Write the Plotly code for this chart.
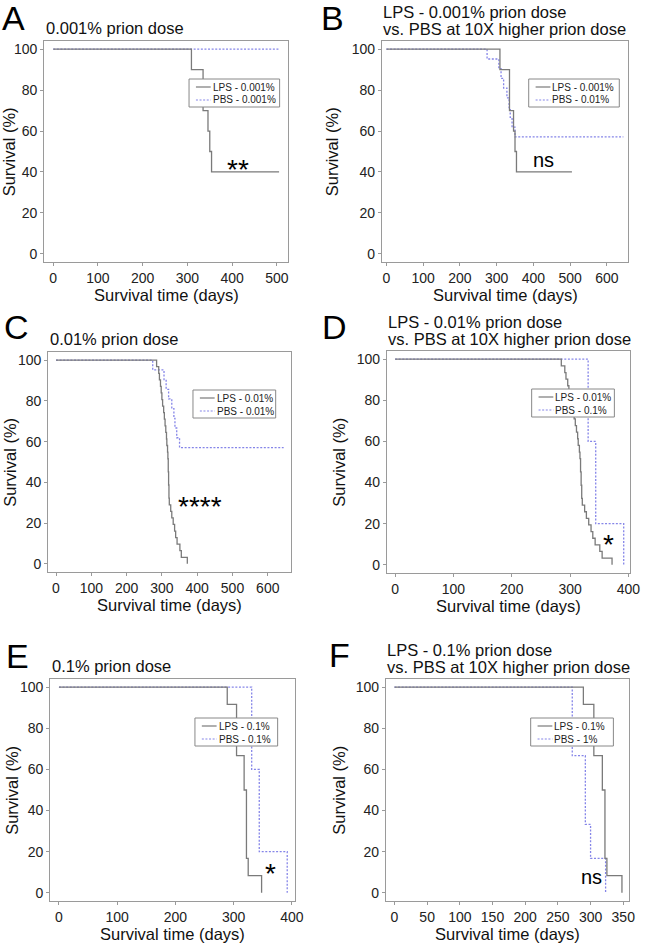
import plotly.graph_objects as go

W, H = 648, 944
FONT = "Liberation Sans, Arial, sans-serif"
GREY = "#7a7a7a"
BLUE = "#8585e8"

# Kaplan-Meier steps (days, survival %)
lps_0001_days = [0, 309, 335, 346, 350, 354, 505]
lps_0001_surv = [100, 90, 70, 60, 50, 40, 40]

pbs_0001_days = [0, 505]
pbs_0001_surv = [100, 100]

pbs_001_days = [0, 274, 306, 312, 319, 328, 334, 337, 342, 350, 645]
pbs_001_surv = [100, 95.2, 90.5, 85.7, 81.0, 76.2, 71.4, 66.7, 61.9, 57.1, 57.1]

lps_001_days = [0, 285, 291, 293, 296, 298, 300, 302, 305, 307, 309, 311, 313, 314,
                316, 317, 318, 319, 320, 321, 325, 328, 332, 336, 339, 343, 351, 355, 372]
lps_001_surv = [100, 96.8, 93.5, 90.3, 87.1, 83.9, 80.6, 77.4, 74.2, 71.0, 67.7, 64.5, 61.3, 58.1,
                54.8, 51.6, 45.2, 38.7, 32.3, 29.0, 25.8, 22.6, 19.4, 16.1, 12.9, 9.7, 6.5, 3.2, 0]

pbs_01_days = [0, 331, 344, 392]
pbs_01_surv = [100, 60, 20, 0]

lps_01_days = [0, 289, 305, 318, 322, 325, 348]
lps_01_surv = [100, 91.7, 66.7, 50, 16.7, 8.3, 0]

pbs_1_days = [0, 272, 292, 300, 323]
pbs_1_surv = [100, 66.7, 33.3, 16.7, 0]

# panel setup
panels = [
    dict(letter="A", title=["0.001% prion dose"], box=(45, 41, 293, 262), xr=[-20, 526],
         xt=list(range(0, 501, 100)),
         lps=(lps_0001_days, lps_0001_surv, "LPS - 0.001%"),
         pbs=(pbs_0001_days, pbs_0001_surv, "PBS - 0.001%"),
         legend=(192, 79), stars=("**", 242, 163, 28), letter_pos=(0, 18), ypos=9),
    dict(letter="B", title=["LPS - 0.001% prion dose", "vs. PBS at 10X higher prion dose"],
         box=(388, 41, 638, 262), xr=[-12, 658], xt=list(range(0, 601, 100)),
         lps=(lps_0001_days, lps_0001_surv, "LPS - 0.001%"),
         pbs=(pbs_001_days, pbs_001_surv, "PBS - 0.01%"),
         legend=(537, 79), stars=("ns", 552, 160, 20), letter_pos=(324, 18), ypos=337),
    dict(letter="C", title=["0.01% prion dose"], box=(49, 352, 296, 572), xr=[-22, 667],
         xt=list(range(0, 601, 100)),
         lps=(lps_001_days, lps_001_surv, "LPS - 0.01%"),
         pbs=(pbs_001_days, pbs_001_surv, "PBS - 0.01%"),
         legend=(196, 390), stars=("****", 203, 500, 28), letter_pos=(2, 327), ypos=10),
    dict(letter="D", title=["LPS - 0.01% prion dose", "vs. PBS at 10X higher prion dose"],
         box=(393, 351, 640, 573), xr=[-14, 403], xt=list(range(0, 401, 100)),
         lps=(lps_001_days, lps_001_surv, "LPS - 0.01%"),
         pbs=(pbs_01_days, pbs_01_surv, "PBS - 0.1%"),
         legend=(540, 389), stars=("*", 618, 538, 28), letter_pos=(325, 327), ypos=344),
    dict(letter="E", title=["0.1% prion dose"], box=(51, 679, 300, 901), xr=[-15, 406],
         xt=list(range(0, 401, 100)),
         lps=(lps_01_days, lps_01_surv, "LPS - 0.1%"),
         pbs=(pbs_01_days, pbs_01_surv, "PBS - 0.1%"),
         legend=(198, 718), stars=("*", 275, 867, 28), letter_pos=(4, 656), ypos=12),
    dict(letter="F", title=["LPS - 0.1% prion dose", "vs. PBS at 10X higher prion dose"],
         box=(392, 679, 639, 901), xr=[-13, 359], xt=list(range(0, 351, 50)),
         lps=(lps_01_days, lps_01_surv, "LPS - 0.1%"),
         pbs=(pbs_1_days, pbs_1_surv, "PBS - 1%"),
         legend=(539, 718), stars=("ns", 601, 877, 20), letter_pos=(332, 655), ypos=344),
]


def fx(p):
    return p / W


def fy(p):
    return 1 - p / H


def label(text, x, y, size, xanchor="center", color="#111", **kw):
    return dict(text=text, x=fx(x), y=fy(y), xref="paper", yref="paper", showarrow=False,
                xanchor=xanchor, yanchor="middle",
                font=dict(family=FONT, size=size, color=color), **kw)


fig = go.Figure()
shapes, annos = [], []
layout = {}

for i, p in enumerate(panels, start=1):
    x0, y0, x1, y1 = p["box"]
    xa = "x" if i == 1 else f"x{i}"
    ya = "y" if i == 1 else f"y{i}"
    axis = dict(showgrid=False, zeroline=False, showline=True, mirror=True,
                linecolor="#9a9a9a", linewidth=1.3, ticks="outside", ticklen=3,
                tickcolor="#9a9a9a", tickwidth=1,
                tickfont=dict(family=FONT, size=14, color="#222"))
    layout["xaxis" if i == 1 else f"xaxis{i}"] = dict(
        axis, domain=[fx(x0), fx(x1)], range=p["xr"], tickvals=p["xt"], anchor=ya)
    layout["yaxis" if i == 1 else f"yaxis{i}"] = dict(
        axis, domain=[fy(y1), fy(y0)], range=[-4, 104], tickvals=[0, 20, 40, 60, 80, 100],
        anchor=xa)

    pd_, ps_, pn = p["pbs"]
    ld, ls, ln = p["lps"]
    fig.add_trace(go.Scatter(x=pd_, y=ps_, mode="lines", line_shape="hv", name=pn,
                             line=dict(color=BLUE, width=1.3, dash="2px,1.6px"),
                             xaxis=xa, yaxis=ya, showlegend=False))
    fig.add_trace(go.Scatter(x=ld, y=ls, mode="lines", line_shape="hv", name=ln,
                             line=dict(color=GREY, width=1.3),
                             xaxis=xa, yaxis=ya, showlegend=False))

    # axis titles
    annos.append(label("Survival time (days)", (x0 + x1) / 2, y1 + 33, 16.5))
    annos.append(label("Survival (%)", p["ypos"], (y0 + y1) / 2, 16.5, textangle=-90))
    # panel letter
    lx, ly = p["letter_pos"]
    annos.append(label(p["letter"], lx, ly, 34, xanchor="left", color="#000"))
    # panel title
    if len(p["title"]) == 1:
        annos.append(label(p["title"][0], x0, y0 - 13, 16.5, xanchor="left"))
    else:
        for k, t in enumerate(p["title"]):
            annos.append(label(t, x0 - 1, y0 - 29 + k * 17, 16.5, xanchor="left"))
    # significance
    st, sx, sy, ss = p["stars"]
    off = 6 if "*" in st else 0
    annos.append(label(st, sx, sy + off, ss, color="#000"))
    # legend box
    bx, by = p["legend"]
    bw = 92 if "0.001" in pn or "0.001" in ln else 84
    shapes.append(dict(type="rect", xref="paper", yref="paper", x0=fx(bx), x1=fx(bx + bw),
                       y0=fy(by), y1=fy(by + 28), line=dict(color="#888", width=1),
                       fillcolor="white"))
    for k, (nm, col, dash) in enumerate([(ln, GREY, "solid"), (pn, BLUE, "2px,1.6px")]):
        ry = by + 8 + k * 13
        shapes.append(dict(type="line", xref="paper", yref="paper", x0=fx(bx + 7),
                           x1=fx(bx + 22), y0=fy(ry), y1=fy(ry),
                           line=dict(color=col, width=1.2, dash=dash)))
        annos.append(label(nm, bx + 22, ry, 10, xanchor="left", color="#222"))

fig.update_layout(width=W, height=H, margin=dict(l=0, r=0, t=0, b=0),
                  paper_bgcolor="white", plot_bgcolor="white", showlegend=False,
                  shapes=shapes, annotations=annos, **layout)

# the page body has a default 8px margin; drop it so the figure sits at the corner
fig.write_html("out.html", config={"displayModeBar": False},
               post_script="document.body.style.margin='0';")
